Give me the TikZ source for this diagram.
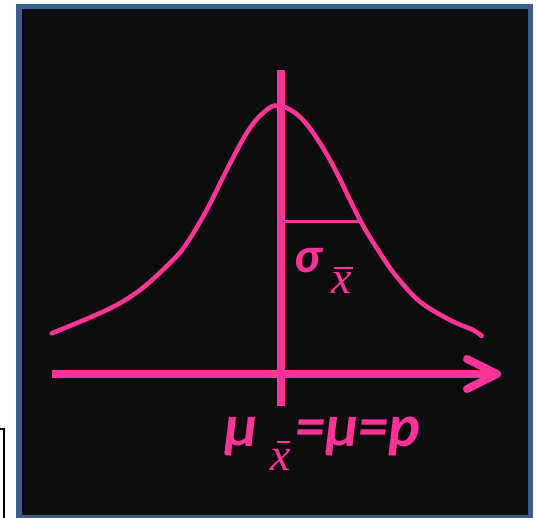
\documentclass[tikz,border=0pt]{standalone}
\usepackage{fontspec}
\newfontfamily\calib{Carlito}
\newfontfamily\serifit{Liberation Serif}
\usetikzlibrary{arrows.meta}
\definecolor{pinkc}{HTML}{FF3399}
\definecolor{bgc}{HTML}{0D0D0D}
\definecolor{framec}{HTML}{3A5F8C}
\tikzset{
  curveline/.style={draw=pinkc, line width=4.5pt, line cap=round, line join=round},
  axisline/.style={draw=pinkc, line width=8pt},
  greek/.style={text=pinkc, font=\calib\bfseries\itshape\fontsize{50}{50}\selectfont, inner sep=0pt, anchor=base west},
  biggreek/.style={text=pinkc, font=\calib\bfseries\itshape\fontsize{60}{60}\selectfont, inner sep=0pt, anchor=base west},
  subx/.style={text=pinkc, font=\serifit\itshape\fontsize{46}{46}\selectfont, inner sep=0pt, anchor=base},
  barline/.style={draw=pinkc, line width=1.6pt},
}
\begin{document}
\begin{tikzpicture}[x=1pt,y=-1pt]
\useasboundingbox (0,0) rectangle (538,518);
% frame
\draw[framec, line width=5.5pt, fill=bgc] (19,6.5) rectangle (530.5,518);
% left bracket
\draw[black, line width=2pt] (0,429) -- (3.8,429) -- (3.8,518);
% axes
\coordinate (vtop) at (280.5,70);
\coordinate (vbot) at (280.5,406);
\coordinate (hleft) at (51.5,374);
\coordinate (htip) at (497,374);
\draw[axisline] (vtop) -- (vbot);
\draw[axisline] (hleft) -- (489,374);
\draw[draw=pinkc, line width=8pt, line cap=round, line join=round] (467,359) -- (htip) -- (467,389);
% sigma line
\coordinate (sl) at (284,221.5);
\coordinate (sr) at (359.5,221.5);
\draw[draw=pinkc, line width=3pt] (sl) -- (sr);
% bell curve
\draw[curveline] plot[smooth, tension=0.6] coordinates {(51.7,333.3) (106.7,310) (140,290) (173,260) (187,243) (206.7,210) (226.7,170) (246.7,133) (263,113) (279,105.5) (303,120) (330,160) (360,220) (380,253) (396.7,276.7) (420,301.7) (450,320) (473,330) (481.7,336)};
% labels
\node[greek] (sigma) at (294,273) {σ};
\node[subx] (sx) at (342,294) {x};
\draw[barline] (334,268) -- (353,268);
\node[biggreek] (mu) at (224,446) {μ};
\node[subx] (mx) at (281,470) {x};
\draw[barline] (277,442) -- (290,442);
\node[biggreek] (rest) at (295,446) {=μ=p};
\end{tikzpicture}
\end{document}
